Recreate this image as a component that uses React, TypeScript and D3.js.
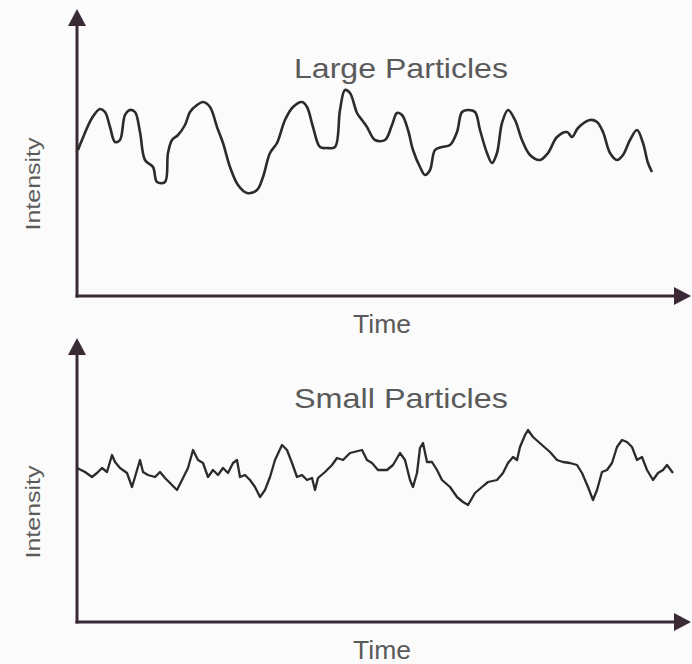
import React from "react";
import * as d3 from "d3";

// Large particles: time (arbitrary units), intensity (arbitrary units)
const largeTime = [0.2,1,3,4.6,5.6,6.6,7.6,8.6,9.6,10.6,11.6,12.6,13.6,15.2,16,17.6,18.2,19,20.2,21.6,22.6,24,25.2,26.6,28,29.2,30.6,32.2,34,36,37.2,38.6,40,41.6,43.2,45,46,47.2,48.6,50,51.6,52.6,53.6,54.6,56,57,58,59.6,61.6,63,64,65,66.2,67.2,68.6,69.6,70.6,71.6,73,74.6,76,77,78.2,79.6,80.6,82,83,84,85,86.2,87.6,89,90.6,92.6,94.2,96,98,99,100.2,102.6,104,105.2,106.6,108,109.2,110.6,112,113.2,114.2,115];
const largeIntensity = [14.6,15.6,17.8,18.7,18.4,16.9,15.4,15.6,18.1,18.6,18.4,16.4,13.6,12.9,11.4,11.4,14.3,15.6,16.1,17.1,18.4,19.1,19.4,18.9,16.9,15.3,12.9,11.1,10.3,10.6,11.9,14.3,15.3,17.6,18.9,19.4,18.9,16.9,14.9,14.8,14.9,18.6,20.6,20.3,18.3,17.6,16.9,15.6,15.6,17.1,18.3,18.1,16.6,14.6,12.9,12.1,12.6,14.6,14.9,15.1,16.4,18.4,18.6,18.4,16.6,14.3,13.3,14.3,17.3,18.6,17.6,15.6,14.1,13.6,14.3,15.9,16.4,15.9,16.8,17.6,17.4,16.4,14.3,13.6,14.1,15.6,16.6,15.3,13.3,12.4];

// Small particles
const smallTime = [0,1.6,3,4,5,6,7,7.6,8.6,10,11,11.6,12.6,13.2,14.2,15.6,16.6,17.6,18.6,20,21,22.2,23.2,24.2,25.2,26.2,27.2,28.2,29.2,30.2,31.2,32,32.6,33.6,34.6,35.6,36.6,37.6,38.6,39.6,41,42,43,44,45,46,47,47.6,48.2,49.6,51,52,53.2,54.6,57,58,59,60.2,62,63.2,64.6,65.6,66.6,67.2,68,68.6,69.2,70,71,72,73,74.6,76,77.2,78.2,79.6,81,82.2,84,85.2,86.2,87.2,88,88.6,89.6,90.2,91.2,93,94.6,96,97.2,98.6,100,101,102.2,103.2,104,105,106,107,108,109,110,111,112,113,114,115.2,116.2,117.2,118,119.2];
const smallIntensity = [15.4,15.0,14.5,14.9,15.4,15.0,16.7,16.0,15.4,14.9,13.5,14.5,16.2,15.0,14.7,14.5,15.0,14.4,13.9,13.2,14.2,15.4,17.2,16.2,15.9,14.5,15.2,14.7,15.4,14.9,15.9,16.2,14.5,14.7,14.2,13.5,12.5,13.2,14.5,16.2,17.7,17.2,15.9,14.5,14.7,14.2,14.4,13.2,14.4,15.0,15.7,16.4,16.2,16.9,17.2,16.2,15.9,15.2,15.2,15.7,16.9,16.2,14.2,13.5,14.9,17.4,17.9,16.0,16.0,15.2,14.2,13.5,12.5,12.0,11.7,12.9,13.5,14.0,14.2,14.9,15.9,16.5,16.2,17.5,18.7,19.2,18.5,17.7,17.0,16.2,16.0,15.9,15.7,14.9,13.5,12.2,13.2,15.0,15.2,15.9,17.5,18.2,18.0,17.5,16.2,16.5,15.2,14.2,14.9,15.2,15.7,14.9];

const panels = [
  { title: "Large Particles", xLabel: "Time", yLabel: "Intensity", time: largeTime, values: largeIntensity, smooth: true },
  { title: "Small Particles", xLabel: "Time", yLabel: "Intensity", time: smallTime, values: smallIntensity, smooth: false },
];

const W = 692;
const H = 664;
const axisX = 77;
const arrowTipX = 691;
const FONT = "'Liberation Sans', Arial, sans-serif";
const AXIS_COLOR = "#3a2a36";
const LINE_COLOR = "#2b2b2b";
const TEXT_COLOR = "#5a5a5a";

function Panel({ p, base, tipY, titleY, timeY, ylabelY }: any) {
  const x = d3.scaleLinear().domain([0, 123]).range([axisX, axisX + 615]);
  const y = d3.scaleLinear().domain([0, 28]).range([base, base - 280]);
  const pts: [number, number][] = p.time.map((t: number, i: number) => [t, p.values[i]]);
  const line = d3
    .line<[number, number]>()
    .x((d) => x(d[0]))
    .y((d) => y(d[1]))
    .curve(p.smooth ? d3.curveCatmullRom.alpha(0.5) : d3.curveLinear);
  const ah = 17; // arrow head length
  const aw = 9; // half width
  return (
    <g>
      <line x1={axisX} y1={base + 1.5} x2={axisX} y2={tipY + ah - 2} stroke={AXIS_COLOR} strokeWidth={3} />
      <polygon
        points={`${axisX},${tipY} ${axisX - aw},${tipY + ah} ${axisX + aw},${tipY + ah}`}
        fill={AXIS_COLOR}
      />
      <line x1={axisX - 1.5} y1={base} x2={arrowTipX - ah + 2} y2={base} stroke={AXIS_COLOR} strokeWidth={3} />
      <polygon
        points={`${arrowTipX},${base} ${arrowTipX - ah},${base - aw} ${arrowTipX - ah},${base + aw}`}
        fill={AXIS_COLOR}
      />
      <path
        d={line(pts) || ""}
        fill="none"
        stroke={LINE_COLOR}
        strokeWidth={p.smooth ? 2.6 : 2.3}
        strokeLinejoin="round"
      />
      <text x={401} y={titleY} textAnchor="middle" fontFamily={FONT} fontSize={28} fill={TEXT_COLOR} textLength={214} lengthAdjust="spacingAndGlyphs">
        {p.title}
      </text>
      <text x={382} y={timeY} textAnchor="middle" fontFamily={FONT} fontSize={26} fill={TEXT_COLOR} textLength={58} lengthAdjust="spacingAndGlyphs">
        {p.xLabel}
      </text>
      <text
        transform={`translate(40,${ylabelY}) rotate(-90)`}
        textAnchor="middle"
        fontFamily={FONT}
        fontSize={21}
        fill={TEXT_COLOR}
        textLength={93}
        lengthAdjust="spacingAndGlyphs"
      >
        {p.yLabel}
      </text>
    </g>
  );
}

export default function App() {
  return (
    <svg
      width={W}
      height={H}
      viewBox={`0 0 ${W} ${H}`}
      style={{ position: "absolute", left: 0, top: 0, background: "#fbfbfc" }}
    >
      <rect x={0} y={0} width={W} height={H} fill="#fbfbfc" />
      <Panel p={panels[0]} base={296} tipY={9} titleY={78} timeY={333} ylabelY={184} />
      <Panel p={panels[1]} base={622} tipY={338} titleY={408} timeY={659} ylabelY={512} />
    </svg>
  );
}
